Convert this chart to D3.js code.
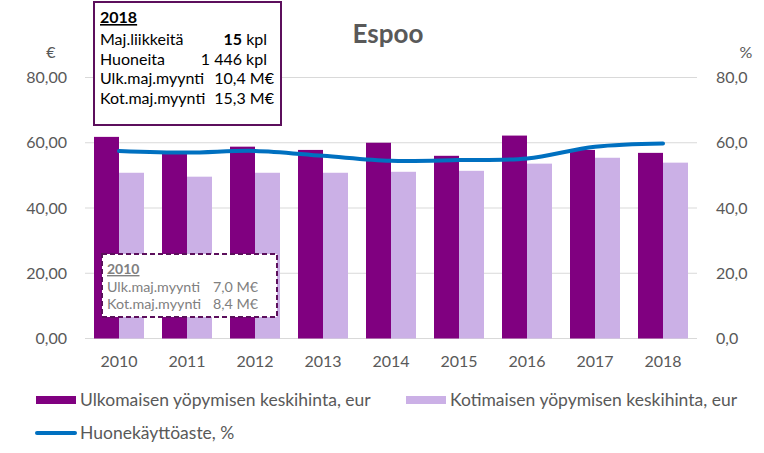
<!DOCTYPE html>
<html>
<head>
<meta charset="utf-8">
<script src="https://cdn.jsdelivr.net/npm/d3@7"></script>
<style>
  html, body { margin: 0; padding: 0; background: #fff; }
  svg { display: block; font-family: Lato, "Open Sans", sans-serif; }
</style>
</head>
<body>
<svg id="chart" width="764" height="453"></svg>
<script>
// ---- data ----
const years = ["2010", "2011", "2012", "2013", "2014", "2015", "2016", "2017", "2018"];
const ulkomainen = [61.8, 56.8, 58.8, 57.8, 60.0, 56.0, 62.2, 57.8, 56.9];
const kotimainen = [50.8, 49.6, 50.8, 50.8, 51.1, 51.4, 53.6, 55.4, 53.9];
const kayttoaste = [57.5, 57.0, 57.5, 56.0, 54.5, 54.7, 55.2, 58.8, 59.8];
const leftTicks = [0, 20, 40, 60, 80];
const rightTicks = [0, 20, 40, 60, 80];
const seriesNames = ["Ulkomaisen yöpymisen keskihinta, eur", "Kotimaisen yöpymisen keskihinta, eur", "Huonekäyttöaste, %"];
const titleText = "Espoo";
const box2018Title = "2018";
const box2018Labels = ["Maj.liikkeitä", "Huoneita", "Ulk.maj.myynti", "Kot.maj.myynti"];
const box2018Values = [["15", " kpl"], ["1 446 kpl", ""], ["10,4 M€", ""], ["15,3 M€", ""]];
const box2010Title = "2010";
const box2010Labels = ["Ulk.maj.myynti", "Kot.maj.myynti"];
const box2010Values = ["7,0 M€", "8,4 M€"];

const C_DARK = "#800080";
const C_LIGHT = "#CBB0E6";
const C_LINE = "#0070C0";
const C_TEXT = "#595959";
const C_GRID = "#D9D9D9";
const C_BOX = "#5C0F5C";

const svg = d3.select("#chart");

const x = d3.scaleBand().domain(years).range([85, 697]).paddingInner(0).paddingOuter(0);
const sub = d3.scaleBand().domain(["u", "k"]).range([9, 59]).padding(0);
const yL = d3.scaleLinear().domain([0, 80]).range([338.5, 77.5]);
const yR = d3.scaleLinear().domain([0, 80]).range([338.5, 77.5]);

const loc = d3.formatLocale({decimal: ",", thousands: " ", grouping: [3], currency: ["", "€"]});
const fmtL = loc.format(".2f");
const fmtR = loc.format(".1f");

// gridlines
svg.append("g").selectAll("line").data(leftTicks).join("line")
  .attr("x1", 85).attr("x2", 697)
  .attr("y1", d => yL(d)).attr("y2", d => yL(d))
  .attr("stroke", C_GRID).attr("stroke-width", 1.2);

// axes
const axL = svg.append("g").attr("transform", "translate(85,0)")
  .call(d3.axisLeft(yL).tickValues(leftTicks).tickFormat(fmtL).tickSize(0).tickPadding(18));
const axR = svg.append("g").attr("transform", "translate(697,0)")
  .call(d3.axisRight(yR).tickValues(rightTicks).tickFormat(fmtR).tickSize(0).tickPadding(19));
const axB = svg.append("g").attr("transform", "translate(0,338.5)")
  .call(d3.axisBottom(x).tickSize(0).tickPadding(17));
[axL, axR, axB].forEach(a => {
  a.select(".domain").remove();
  a.selectAll("text").attr("fill", C_TEXT).style("font-size", "16px").style("font-family", "Lato, sans-serif");
});

// unit labels
svg.append("text").attr("x", 51).attr("y", 58).attr("text-anchor", "middle")
  .attr("fill", C_TEXT).style("font-size", "16px").text("€");
svg.append("text").attr("x", 746).attr("y", 58).attr("text-anchor", "middle")
  .attr("fill", C_TEXT).style("font-size", "16px").text("%");

// bars
const g = svg.append("g");
g.selectAll("rect.u").data(years).join("rect").attr("class", "u")
  .attr("x", (d) => x(d) + sub("u")).attr("width", sub.bandwidth())
  .attr("y", (d, i) => yL(ulkomainen[i])).attr("height", (d, i) => yL(0) - yL(ulkomainen[i]))
  .attr("fill", C_DARK);
g.selectAll("rect.k").data(years).join("rect").attr("class", "k")
  .attr("x", (d) => x(d) + sub("k")).attr("width", sub.bandwidth())
  .attr("y", (d, i) => yL(kotimainen[i])).attr("height", (d, i) => yL(0) - yL(kotimainen[i]))
  .attr("fill", C_LIGHT);

// line
const line = d3.line()
  .x((d, i) => x(years[i]) + x.bandwidth() / 2)
  .y(d => yR(d))
  .curve(d3.curveCatmullRom.alpha(0.5));
svg.append("path").datum(kayttoaste).attr("d", line)
  .attr("fill", "none").attr("stroke", C_LINE).attr("stroke-width", 4)
  .attr("stroke-linecap", "round").attr("stroke-linejoin", "round");

// title
svg.append("text").attr("x", 388).attr("y", 43).attr("text-anchor", "middle")
  .attr("fill", C_TEXT).style("font-size", "26px").style("font-weight", "bold").text(titleText);

// 2018 box
const b18 = svg.append("g");
b18.append("rect").attr("x", 94).attr("y", 2).attr("width", 187).attr("height", 123)
  .attr("fill", "#fff").attr("stroke", C_BOX).attr("stroke-width", 2);
b18.append("text").attr("x", 100).attr("y", 23).attr("fill", "#000")
  .style("font-size", "16px").style("font-weight", "bold").style("text-decoration", "underline").text(box2018Title);
box2018Labels.forEach((lab, i) => {
  const yy = 45 + i * 19.7;
  b18.append("text").attr("x", 100).attr("y", yy).attr("fill", "#000").style("font-size", "16px").text(lab);
  const t = b18.append("text").attr("x", i < 2 ? 267 : 274).attr("y", yy).attr("text-anchor", "end")
    .attr("fill", "#000").style("font-size", "16px");
  if (i === 0) {
    t.append("tspan").style("font-weight", "bold").text(box2018Values[i][0]);
    t.append("tspan").text(box2018Values[i][1]);
  } else {
    t.text(box2018Values[i][0]);
  }
});

// 2010 box
const b10 = svg.append("g");
b10.append("rect").attr("x", 102).attr("y", 254).attr("width", 175).attr("height", 63)
  .attr("fill", "#fff").attr("stroke", C_BOX).attr("stroke-width", 2).attr("stroke-dasharray", "5,3");
b10.append("text").attr("x", 107).attr("y", 274).attr("fill", "#808080")
  .style("font-size", "14px").style("font-weight", "bold").style("text-decoration", "underline").text(box2010Title);
box2010Labels.forEach((lab, i) => {
  const yy = 292 + i * 16.5;
  b10.append("text").attr("x", 107).attr("y", yy).attr("fill", "#808080").style("font-size", "14.3px").text(lab);
  b10.append("text").attr("x", 258).attr("y", yy).attr("text-anchor", "end")
    .attr("fill", "#808080").style("font-size", "14.3px").text(box2010Values[i]);
});

// legend
const leg = svg.append("g");
leg.append("rect").attr("x", 36).attr("y", 396).attr("width", 40).attr("height", 8).attr("fill", C_DARK);
leg.append("text").attr("x", 80).attr("y", 406).attr("fill", C_TEXT).style("font-size", "17.5px").text(seriesNames[0]);
leg.append("rect").attr("x", 406).attr("y", 396).attr("width", 40).attr("height", 8).attr("fill", C_LIGHT);
leg.append("text").attr("x", 450).attr("y", 406).attr("fill", C_TEXT).style("font-size", "17.5px").text(seriesNames[1]);
leg.append("line").attr("x1", 37).attr("x2", 75).attr("y1", 433).attr("y2", 433)
  .attr("stroke", C_LINE).attr("stroke-width", 4).attr("stroke-linecap", "round");
leg.append("text").attr("x", 80).attr("y", 439).attr("fill", C_TEXT).style("font-size", "17.5px").text(seriesNames[2]);
</script>
</body>
</html>
